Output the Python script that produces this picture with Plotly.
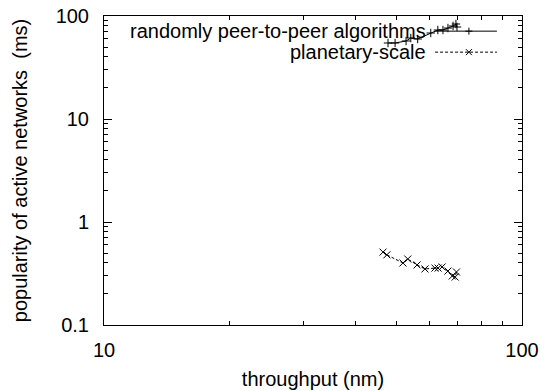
import plotly.graph_objects as go

# Series 1: randomly peer-to-peer algorithms
p2p_x = [47.8, 49.7, 52.8, 54.2, 56.3, 60.5, 62.9, 64.7, 66.5, 68.4, 69.5, 69.9]
p2p_y = [54.7, 54.7, 57.2, 61.1, 59.8, 68.4, 73.1, 73.1, 76.4, 80.0, 83.6, 78.2]

# Series 2: planetary-scale
ps_x = [46.5, 47.5, 51.9, 53.3, 56.1, 58.6, 61.9, 63.0, 64.4, 66.5, 68.1, 69.2, 69.7]
ps_y = [0.51, 0.48, 0.40, 0.437, 0.383, 0.35, 0.357, 0.357, 0.366, 0.334, 0.299, 0.292, 0.327]

series_names = ["randomly peer-to-peer algorithms", "planetary-scale"]
x_ticks = [10, 100]
x_tick_labels = ["10", "100"]
y_ticks = [0.1, 1, 10, 100]
y_tick_labels = ["0.1", "1", "10", "100"]
x_title = "throughput (nm)"
y_title = "popularity of active networks  (ms)"

FONT = "Liberation Sans, Arial, Helvetica, sans-serif"
FS = 20

fig = go.Figure()
fig.add_trace(go.Scatter(
    x=p2p_x, y=p2p_y, mode="lines+markers", name=series_names[0],
    line=dict(color="black", width=1),
    marker=dict(symbol="cross-thin", size=6, line=dict(color="black", width=1)),
    showlegend=False,
))
fig.add_trace(go.Scatter(
    x=ps_x, y=ps_y, mode="lines+markers", name=series_names[1],
    line=dict(color="black", width=1, dash="3px,2px"),
    marker=dict(symbol="x-thin", size=7, line=dict(color="black", width=1)),
    showlegend=False,
))

minor_x = [v * d for d in (10,) for v in range(2, 10)]
minor_y = [v * d for d in (0.1, 1, 10) for v in range(2, 10)]

axis_common = dict(
    type="log", showgrid=False, zeroline=False, automargin=False,
    showline=True, linecolor="black", linewidth=1, mirror="ticks",
    ticks="inside", ticklen=8, tickcolor="black", tickwidth=1,
    tickfont=dict(family=FONT, size=FS, color="black"),
    title_font=dict(family=FONT, size=FS, color="black"),
)

fig.update_xaxes(
    **axis_common, range=[1, 2], tickmode="array",
    tickvals=x_ticks, ticktext=x_tick_labels,
    minor=dict(ticks="inside", ticklen=4, tickcolor="black", tickvals=minor_x, showgrid=False),
    title_text=x_title, title_standoff=11, ticklabelstandoff=7,
)
fig.update_yaxes(
    **axis_common, range=[-1, 2], tickmode="array",
    tickvals=y_ticks, ticktext=y_tick_labels,
    minor=dict(ticks="inside", ticklen=4, tickcolor="black", tickvals=minor_y, showgrid=False),
    title_text=y_title, title_standoff=22, ticklabelstandoff=10,
)

# Manual gnuplot-style key (text right-aligned, sample on the right)
key_text_x = 0.775
key_rows = [0.951, 0.883]
sample_x0, sample_x1, sample_mid = 0.792, 0.940, 0.873
dashes = ["solid", "3px,2px"]
for i, (name, ky) in enumerate(zip(series_names, key_rows)):
    fig.add_annotation(
        x=key_text_x, y=ky, xref="paper", yref="paper", text=name,
        showarrow=False, xanchor="right", yanchor="middle",
        font=dict(family=FONT, size=FS, color="black"),
    )
    fig.add_shape(type="line", xref="paper", yref="paper",
                  x0=sample_x0, x1=sample_x1, y0=ky, y1=ky,
                  line=dict(color="black", width=1, dash=dashes[i]))
    if i == 0:
        segs = [(-3.5, 0, 3.5, 0), (0, -3.5, 0, 3.5)]
    else:
        segs = [(-3, -3, 3, 3), (-3, 3, 3, -3)]
    for (a, b, c, d) in segs:
        fig.add_shape(type="line", xref="paper", yref="paper",
                      xsizemode="pixel", ysizemode="pixel",
                      xanchor=sample_mid, yanchor=ky,
                      x0=a, x1=c, y0=b, y1=d,
                      line=dict(color="black", width=1))

fig.update_layout(
    width=549, height=391,
    margin=dict(l=104, r=27, t=16, b=66),
    paper_bgcolor="white", plot_bgcolor="white",
    font=dict(family=FONT, color="black"),
)

fig.write_html("out.html")
